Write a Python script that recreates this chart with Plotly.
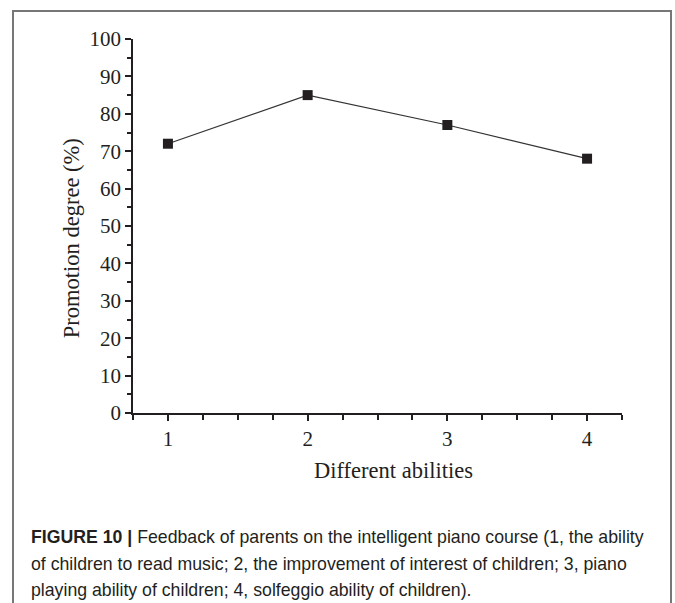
import plotly.graph_objects as go

abilities = [1, 2, 3, 4]
promotion = [72, 85, 77, 68]
x_tick_vals = [1, 2, 3, 4]
x_tick_text = ["1", "2", "3", "4"]
y_tick_vals = [0, 10, 20, 30, 40, 50, 60, 70, 80, 90, 100]

x_title = "Different abilities"
y_title = "Promotion degree (%)"
caption_lines = [
    "<b>FIGURE 10 |</b> Feedback of parents on the intelligent piano course (1, the ability",
    "of children to read music; 2, the improvement of interest of children; 3, piano",
    "playing ability of children; 4, solfeggio ability of children).",
]

W, H = 675, 603
L, R, T, B = 133, 622, 39, 412.7

fig = go.Figure()
fig.add_trace(go.Scatter(
    x=abilities, y=promotion, mode="lines+markers",
    line=dict(color="#333333", width=1.2),
    marker=dict(symbol="square", size=10, color="#231f20"),
    showlegend=False, cliponaxis=False,
))

serif = "Liberation Serif, Times New Roman, serif"
ink = "#231f20"
fig.update_layout(
    width=W, height=H,
    margin=dict(l=L, r=W - R, t=T, b=H - B, pad=0),
    paper_bgcolor="white", plot_bgcolor="white",
    font=dict(family=serif, size=21, color=ink),
    xaxis=dict(
        range=[0.75, 4.25], showgrid=False, zeroline=False,
        showline=True, linecolor=ink, linewidth=1.5,
        tickmode="array", tickvals=x_tick_vals, ticktext=x_tick_text,
        ticks="outside", ticklen=6, tickwidth=1.5, tickcolor=ink,
        minor=dict(dtick=0.25, tick0=0, ticks="outside", ticklen=5, tickwidth=1.5, tickcolor=ink),
        tickfont=dict(family=serif, size=21, color=ink),
    ),
    yaxis=dict(
        range=[0, 100], showgrid=False, zeroline=False,
        showline=True, linecolor=ink, linewidth=1.5,
        tickmode="array", tickvals=y_tick_vals,
        ticks="outside", ticklen=6, tickwidth=1.5, tickcolor=ink,
        minor=dict(dtick=5, tick0=0, ticks="outside", ticklen=4, tickwidth=1.5, tickcolor=ink),
        tickfont=dict(family=serif, size=21, color=ink),
    ),
)

pw, ph = R - L, B - T

def px_x(px):
    return (px - L) / pw

def px_y(py):
    return (B - py) / ph

fig.add_shape(type="rect", xref="paper", yref="paper",
              x0=px_x(13), x1=px_x(671), y0=px_y(640), y1=px_y(11),
              line=dict(color="#777777", width=2), fillcolor="rgba(0,0,0,0)", layer="below")

fig.add_annotation(xref="paper", yref="paper", x=px_x(393.5), y=px_y(470),
                   xanchor="center", yanchor="middle", showarrow=False, text=x_title,
                   font=dict(family=serif, size=22.5, color=ink))
fig.add_annotation(xref="paper", yref="paper", x=px_x(71), y=px_y(238),
                   xanchor="center", yanchor="middle", showarrow=False, text=y_title,
                   textangle=-90, font=dict(family=serif, size=22.5, color=ink))

for i, line in enumerate(caption_lines):
    fig.add_annotation(
        xref="paper", yref="paper", x=px_x(29), y=px_y(537 + i * 26.5),
        xanchor="left", yanchor="middle", showarrow=False, text=line, align="left",
        font=dict(family="Liberation Sans, Arial, sans-serif", size=17.7, color=ink),
    )

fig.write_html("out.html", config={"displayModeBar": False},
               post_script="document.body.style.margin='0';")
